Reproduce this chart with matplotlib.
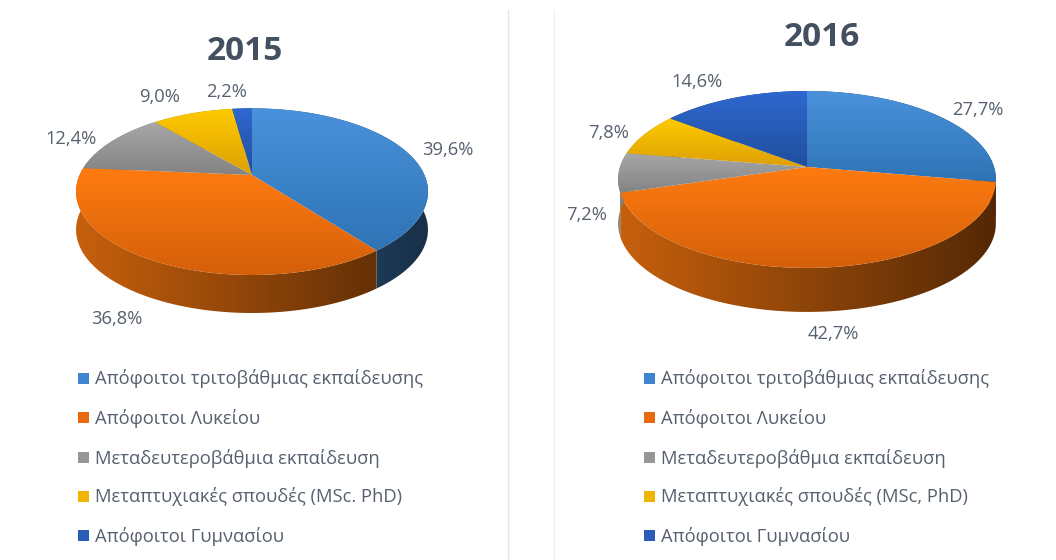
import numpy as np
import matplotlib
matplotlib.use("Agg")
import matplotlib.pyplot as plt
from matplotlib.patches import Polygon, Rectangle

plt.rcParams['font.family'] = ['Open Sans', 'DejaVu Sans']

# data
years = ["2015", "2016"]
values_2015 = [39.6, 36.8, 12.4, 9.0, 2.2]
values_2016 = [27.7, 42.7, 7.2, 7.8, 14.6]
labels_2015 = ["39,6%", "36,8%", "12,4%", "9,0%", "2,2%"]
labels_2016 = ["27,7%", "42,7%", "7,2%", "7,8%", "14,6%"]
legend_2015 = ["Απόφοιτοι τριτοβάθμιας εκπαίδευσης", "Απόφοιτοι Λυκείου",
               "Μεταδευτεροβάθμια εκπαίδευση", "Μεταπτυχιακές σπουδές (MSc. PhD)",
               "Απόφοιτοι Γυμνασίου"]
legend_2016 = ["Απόφοιτοι τριτοβάθμιας εκπαίδευσης", "Απόφοιτοι Λυκείου",
               "Μεταδευτεροβάθμια εκπαίδευση", "Μεταπτυχιακές σπουδές (MSc, PhD)",
               "Απόφοιτοι Γυμνασίου"]

# slice colours, top and bottom of the gradient
top_colors = ["#4a92dc", "#ff7b10", "#a8a8a8", "#ffcb00", "#2f68d0"]
bottom_colors = ["#2e73b4", "#d45f0a", "#828282", "#dc9f04", "#1f4e9c"]
legend_colors = ["#3f86cf", "#e8690f", "#969696", "#eeb502", "#2a5cb8"]
text_color = "#56606e"
title_color = "#44505f"

# layout in pixels: apex x, apex y, a, b, perspective, depth
geom_2015 = (252, 175, 172.4, 80.0, 0.20, 38)
geom_2016 = (807, 167, 187.0, 86.7, 0.141, 44)
label_pos_2015 = [(448, 150), (117, 319), (71, 139), (160, 97), (227, 92)]
label_pos_2016 = [(978, 110), (833, 334), (587, 215), (609, 133), (697, 82)]
title_pos = [(245, 52), (822, 38)]
legend_y = [379, 418, 458, 497, 536]
legend_x = [78, 644]


def hex_rgb(c):
    return np.array(matplotlib.colors.to_rgb(c))


def rim(geom, theta):
    # circle seen in perspective, theta clockwise from 12 o'clock
    cx, cy, a, b, k, _ = geom
    u = np.sin(theta)
    v = -np.cos(theta)
    w = 1 - k * v
    return cx + a * u / w, cy + b * v / w


def fill_gradient(ax, xy, extent, img, z):
    im = ax.imshow(img, extent=extent, aspect="auto", interpolation="bilinear", zorder=z)
    clip = Polygon(xy, closed=True, transform=ax.transData, facecolor="none", edgecolor="none")
    ax.add_patch(clip)
    im.set_clip_path(clip)


def draw_pie(ax, values, geom):
    cx, cy, a, b, k, depth = geom
    fracs = np.array(values) / sum(values)
    edges = np.concatenate([[0], np.cumsum(fracs)]) * 2 * np.pi
    left = cx - a / np.sqrt(1 - k ** 2)
    right = cx + a / np.sqrt(1 - k ** 2)

    # side wall
    shade = np.linspace(0.78, 0.33, 128)
    for i in range(len(values)):
        t = np.linspace(edges[i], edges[i + 1], 200)
        x, y = rim(geom, t)
        xy = np.column_stack([np.r_[x, x[::-1]], np.r_[y, y[::-1] + depth]])
        img = hex_rgb(top_colors[i])[None, None, :] * shade[None, :, None]
        fill_gradient(ax, xy, (left, right, cy + b + depth + 60, cy - b - 60), img, 2)

    # top faces
    for i in range(len(values)):
        t = np.linspace(edges[i], edges[i + 1], 200)
        x, y = rim(geom, t)
        xy = np.column_stack([np.r_[cx, x], np.r_[cy, y]])
        c1, c2 = hex_rgb(top_colors[i]), hex_rgb(bottom_colors[i])
        f = np.linspace(0, 1, 128)[:, None, None]
        img = c1[None, None, :] * (1 - f) + c2[None, None, :] * f
        fill_gradient(ax, xy, (xy[:, 0].min() - 2, xy[:, 0].max() + 2,
                               xy[:, 1].max() + 1, xy[:, 1].min() - 1), img, 3)


fig = plt.figure(figsize=(10.56, 5.6), dpi=100)
ax = fig.add_axes([0, 0, 1, 1])

# divider lines
ax.plot([507.5, 507.5], [10, 560], color="#e6e6e6", lw=1.0, zorder=1)
ax.plot([553.5, 553.5], [10, 560], color="#f0f0f0", lw=1.0, zorder=1)

draw_pie(ax, values_2015, geom_2015)
draw_pie(ax, values_2016, geom_2016)

for year, (tx, ty) in zip(years, title_pos):
    ax.text(tx, ty, year, fontsize=24, fontweight="bold", color=title_color, ha="center", va="center")

for labs, pos in [(labels_2015, label_pos_2015), (labels_2016, label_pos_2016)]:
    for lab, (lx, ly) in zip(labs, pos):
        ax.text(lx, ly, lab, fontsize=13.2, color=text_color, ha="center", va="center")

for names, lx in zip([legend_2015, legend_2016], legend_x):
    for name, ly, col in zip(names, legend_y, legend_colors):
        ax.add_patch(Rectangle((lx, ly - 6), 10.5, 10.5, facecolor=col, edgecolor="none", zorder=3))
        ax.text(lx + 17, ly, name, fontsize=13.2, color=text_color, ha="left", va="center")

ax.set_xlim(0, 1056)
ax.set_ylim(560, 0)
ax.axis("off")

fig.savefig("out.png", dpi=100, facecolor="white")
